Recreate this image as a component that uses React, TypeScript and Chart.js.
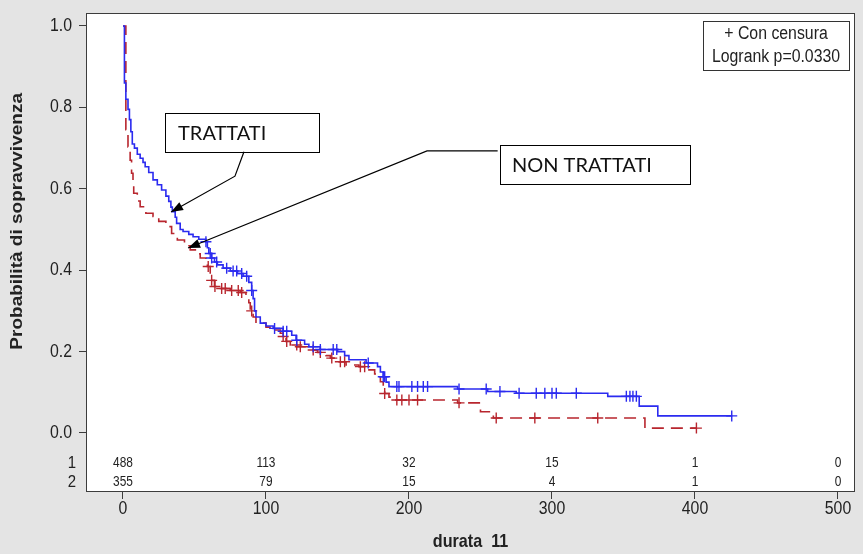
import React, { useEffect, useRef } from "react";
import { Chart, registerables } from "chart.js";

Chart.register(...registerables);

// ---------- DATA ----------
const xTicks = [0, 100, 200, 300, 400, 500];
const yTicks = [0, 0.2, 0.4, 0.6, 0.8, 1.0];

const riskTimes = [0, 100, 200, 300, 400, 500];
const riskGroup1 = [488, 113, 32, 15, 1, 0];
const riskGroup2 = [355, 79, 15, 4, 1, 0];
const riskRowLabels = ["1", "2"];

// Group 1 (TRATTATI) Kaplan-Meier steps
const trattatiT = [0, 1, 2, 3.5, 4.5, 5.5, 6.5, 8, 10, 12, 14, 15.5, 18, 21, 24, 27, 30, 32, 33.5, 34.5, 36.5, 37.5, 40, 42, 46, 49, 53, 58, 59, 60, 62, 64, 66, 70, 75, 80, 84, 88, 90, 91, 92, 93, 96, 100, 105, 112, 118, 121, 127, 130, 138, 150, 155, 158, 170, 178, 180, 182, 184, 186, 234, 255, 275, 339, 361, 374, 426];
const trattatiS = [1, 0.86, 0.82, 0.795, 0.77, 0.74, 0.71, 0.7, 0.685, 0.675, 0.665, 0.654, 0.64, 0.622, 0.61, 0.597, 0.582, 0.569, 0.555, 0.544, 0.53, 0.515, 0.5, 0.495, 0.488, 0.482, 0.476, 0.47, 0.455, 0.441, 0.43, 0.42, 0.413, 0.405, 0.398, 0.392, 0.385, 0.37, 0.35, 0.33, 0.3, 0.285, 0.27, 0.263, 0.257, 0.25, 0.24, 0.228, 0.218, 0.212, 0.205, 0.2, 0.19, 0.18, 0.172, 0.163, 0.15, 0.138, 0.125, 0.114, 0.108, 0.102, 0.0975, 0.09, 0.066, 0.042, 0.042];
const trattatiCensT = [58, 61, 62, 65.5, 72.5, 77, 79.5, 83, 86.5, 90, 106, 112, 114.5, 121.5, 133, 138, 147, 149.5, 171.5, 182, 183, 191.5, 193, 202, 206, 210, 213, 235, 254, 263.6, 277, 289, 295, 300, 303, 317, 352, 354.5, 356.6, 359, 425.7];
const trattatiCensS = [0.47, 0.441, 0.43, 0.42, 0.405, 0.398, 0.398, 0.392, 0.385, 0.35, 0.257, 0.25, 0.25, 0.228, 0.212, 0.205, 0.205, 0.205, 0.172, 0.138, 0.138, 0.114, 0.114, 0.114, 0.114, 0.114, 0.114, 0.108, 0.108, 0.102, 0.0975, 0.0975, 0.0975, 0.0975, 0.0975, 0.0975, 0.09, 0.09, 0.09, 0.09, 0.042];

// Group 2 (NON TRATTATI) Kaplan-Meier steps
const nonTrattatiT = [0, 2, 3.5, 5, 6, 7, 7.5, 10, 12, 16, 21, 25, 30, 34, 38, 43, 47, 52, 54, 58, 59, 61, 62, 64, 68, 75, 82, 86, 88, 89, 91, 93, 100, 105, 110, 112, 114, 117, 122, 129, 136, 142, 145, 150, 156, 165, 172, 176, 178, 180, 182, 183, 186, 190, 234, 250, 259, 365, 401];
const nonTrattatiS = [1, 0.745, 0.703, 0.67, 0.638, 0.61, 0.589, 0.57, 0.556, 0.54, 0.532, 0.52, 0.507, 0.49, 0.474, 0.46, 0.45, 0.44, 0.43, 0.42, 0.409, 0.39, 0.375, 0.36, 0.355, 0.35, 0.345, 0.335, 0.32, 0.3, 0.285, 0.27, 0.26, 0.253, 0.245, 0.237, 0.225, 0.216, 0.212, 0.204, 0.198, 0.19, 0.184, 0.175, 0.167, 0.163, 0.155, 0.145, 0.138, 0.126, 0.11, 0.097, 0.088, 0.081, 0.074, 0.052, 0.037, 0.012, 0.012];
const nonTrattatiCensT = [59.6, 62, 64.3, 69, 71.5, 76, 80.6, 83, 90, 112, 114.5, 121.5, 124, 133, 138, 146, 152, 155, 166, 169, 183, 191.5, 195, 200, 206, 235, 261, 288, 332, 401];
const nonTrattatiCensS = [0.409, 0.375, 0.36, 0.355, 0.355, 0.35, 0.35, 0.345, 0.3, 0.237, 0.225, 0.216, 0.212, 0.204, 0.198, 0.184, 0.175, 0.175, 0.163, 0.163, 0.097, 0.081, 0.081, 0.081, 0.081, 0.074, 0.037, 0.037, 0.037, 0.012];

const legendLines = ["+ Con censura", "Logrank p=0.0330"];
const xTitle = "durata  11";
const yTitle = "Probabilità di sopravvivenza";
const labelTrattati = "TRATTATI";
const labelNonTrattati = "NON TRATTATI";

// ---------- STYLE ----------
const BLUE = "#2b2bf0";
const RED = "#b8262e";
const BG = "#e4e4e4";
const FRAME = "#3c3c3c";
const TEXT = "#222222";
const SANS = "'Liberation Sans', Arial, sans-serif";
const CALLOUT = "Lato, 'Open Sans', sans-serif";
const SQUISH = 0.88;

const pts = (xs: number[], ys: number[]) => xs.map((x, i) => ({ x, y: ys[i] }));

function text(ctx: CanvasRenderingContext2D, s: string, x: number, y: number, font: string, align: CanvasTextAlign, sx = SQUISH) {
  ctx.save();
  ctx.translate(x, y);
  ctx.scale(sx, 1);
  ctx.font = font;
  ctx.textAlign = align;
  ctx.textBaseline = "middle";
  ctx.fillText(s, 0, 0);
  ctx.restore();
}

function arrow(ctx: CanvasRenderingContext2D, path: [number, number][]) {
  ctx.beginPath();
  ctx.moveTo(path[0][0], path[0][1]);
  for (let i = 1; i < path.length; i++) ctx.lineTo(path[i][0], path[i][1]);
  ctx.stroke();
  const [tx, ty] = path[path.length - 1];
  const [px, py] = path[path.length - 2];
  const ang = Math.atan2(ty - py, tx - px);
  const L = 12, W = 4.5;
  ctx.beginPath();
  ctx.moveTo(tx, ty);
  ctx.lineTo(tx - L * Math.cos(ang) + W * Math.sin(ang), ty - L * Math.sin(ang) - W * Math.cos(ang));
  ctx.lineTo(tx - L * Math.cos(ang) - W * Math.sin(ang), ty - L * Math.sin(ang) + W * Math.cos(ang));
  ctx.closePath();
  ctx.fill();
}

const bgPlugin = {
  id: "bg",
  beforeDraw(chart: any) {
    const { ctx, chartArea: a } = chart;
    ctx.save();
    ctx.fillStyle = BG;
    ctx.fillRect(0, 0, chart.width, chart.height);
    ctx.fillStyle = "#ffffff";
    ctx.fillRect(a.left, a.top, a.right - a.left, a.bottom - a.top);
    ctx.restore();
  },
};

const overlayPlugin = {
  id: "overlay",
  afterDraw(chart: any) {
    const { ctx, chartArea: a } = chart;
    const xs = chart.scales.x;
    const ys = chart.scales.y;
    const X = (v: number) => xs.getPixelForValue(v);
    const Y = (v: number) => ys.getPixelForValue(v);
    ctx.save();

    // frame
    ctx.strokeStyle = FRAME;
    ctx.lineWidth = 1;
    ctx.strokeRect(Math.round(a.left) + 0.5, Math.round(a.top) + 0.5, Math.round(a.right - a.left) - 1, Math.round(a.bottom - a.top) - 1);

    ctx.fillStyle = TEXT;
    const tickFont = `18px ${SANS}`;
    // tick labels
    xTicks.forEach((v) => text(ctx, String(v), X(v), a.bottom + 17, tickFont, "center"));
    yTicks.forEach((v) => text(ctx, v.toFixed(1), a.left - 14, Y(v), tickFont, "right"));

    // number at risk table
    const rows = [riskGroup1, riskGroup2];
    const rowY = [a.bottom - 29, a.bottom - 10];
    rows.forEach((row, r) => {
      row.forEach((n, i) => text(ctx, String(n), X(riskTimes[i]), rowY[r], `14px ${SANS}`, "center", 0.85));
    });
    riskRowLabels.forEach((l, r) => text(ctx, l, a.left - 10, rowY[r], `17px ${SANS}`, "right"));

    // axis titles
    text(ctx, xTitle, (a.left + a.right) / 2, a.bottom + 50, `bold 19px ${SANS}`, "center", 0.85);
    ctx.save();
    ctx.translate(18, Y(0.52));
    ctx.rotate(-Math.PI / 2);
    ctx.scale(1, 0.85);
    ctx.font = `bold 19px ${SANS}`;
    ctx.textAlign = "center";
    ctx.textBaseline = "middle";
    ctx.fillText(yTitle, 0, 0);
    ctx.restore();

    // legend box (top right)
    const lbR = a.right - 6, lbT = a.top + 8, lbW = 146, lbH = 49;
    ctx.fillStyle = "#ffffff";
    ctx.fillRect(lbR - lbW, lbT, lbW, lbH);
    ctx.strokeStyle = "#333";
    ctx.strokeRect(Math.round(lbR - lbW) + 0.5, Math.round(lbT) + 0.5, lbW, lbH);
    ctx.fillStyle = TEXT;
    text(ctx, legendLines[0], lbR - lbW / 2, lbT + 13, `18px ${SANS}`, "center");
    text(ctx, legendLines[1], lbR - lbW / 2, lbT + 36, `18px ${SANS}`, "center");

    // call-out boxes
    ctx.strokeStyle = "#000";
    ctx.lineWidth = 1;
    const box = (t0: number, t1: number, s0: number, s1: number, label: string, tText: number) => {
      const x0 = Math.round(X(t0)) + 0.5, x1 = Math.round(X(t1)) + 0.5;
      const y0 = Math.round(Y(s0)) + 0.5, y1 = Math.round(Y(s1)) + 0.5;
      ctx.fillStyle = "#fff";
      ctx.fillRect(x0, y0, x1 - x0, y1 - y0);
      ctx.strokeRect(x0, y0, x1 - x0, y1 - y0);
      ctx.fillStyle = "#111";
      text(ctx, label, X(tText), (y0 + y1) / 2 + 1, `20px ${CALLOUT}`, "left", 1);
    };
    box(29.4, 137.1, 0.786, 0.691, labelTrattati, 38.5);
    box(263.6, 396.5, 0.707, 0.611, labelNonTrattati, 272);

    ctx.fillStyle = "#000";
    ctx.lineWidth = 1.2;
    arrow(ctx, [[X(84.6), Y(0.691)], [X(78.3), Y(0.631)], [X(33.6), Y(0.543)]]);
    arrow(ctx, [[X(262), Y(0.693)], [X(212.6), Y(0.693)], [X(45.5), Y(0.4545)]]);

    ctx.restore();
  },
};

export default function App() {
  const ref = useRef<HTMLCanvasElement | null>(null);
  useEffect(() => {
    document.body.style.margin = "0";
    document.body.style.background = BG;
    const canvas = ref.current!;
    const chart = new Chart(canvas, {
      type: "line",
      data: {
        datasets: [
          {
            label: labelTrattati,
            data: pts(trattatiT, trattatiS),
            borderColor: BLUE,
            borderWidth: 1.6,
            stepped: "before",
            pointRadius: 0,
            fill: false,
          },
          {
            type: "scatter",
            label: "cens1",
            data: pts(trattatiCensT, trattatiCensS),
            borderColor: BLUE,
            backgroundColor: BLUE,
            pointStyle: "cross",
            pointRadius: 5.5,
            borderWidth: 1.4,
            showLine: false,
          },
          {
            label: labelNonTrattati,
            data: pts(nonTrattatiT, nonTrattatiS),
            borderColor: RED,
            borderWidth: 1.6,
            borderDash: [12, 7],
            stepped: "before",
            pointRadius: 0,
            fill: false,
          },
          {
            type: "scatter",
            label: "cens2",
            data: pts(nonTrattatiCensT, nonTrattatiCensS),
            borderColor: RED,
            backgroundColor: RED,
            pointStyle: "cross",
            pointRadius: 5.5,
            borderWidth: 1.4,
            showLine: false,
          },
        ] as any,
      },
      options: {
        responsive: false,
        animation: false,
        devicePixelRatio: 1,
        layout: { padding: { top: 13, right: 8, left: 0, bottom: 0 } },
        plugins: {
          legend: { display: false },
          tooltip: { enabled: false },
          title: { display: false },
        },
        scales: {
          x: {
            type: "linear",
            min: -25.87,
            max: 511.9,
            afterBuildTicks: (ax: any) => {
              ax.ticks = xTicks.map((v) => ({ value: v }));
            },
            afterFit: (ax: any) => {
              ax.height = 62;
            },
            grid: { drawOnChartArea: false, drawTicks: true, tickLength: 7, color: FRAME, tickColor: FRAME },
            border: { display: false },
            ticks: { display: false, autoSkip: false },
          },
          y: {
            type: "linear",
            min: -0.145,
            max: 1.0319,
            afterBuildTicks: (ax: any) => {
              ax.ticks = yTicks.map((v) => ({ value: v }));
            },
            afterFit: (ax: any) => {
              ax.width = 86;
            },
            grid: { drawOnChartArea: false, drawTicks: true, tickLength: 7, color: FRAME, tickColor: FRAME },
            border: { display: false },
            ticks: { display: false, autoSkip: false },
          },
        },
      } as any,
      plugins: [bgPlugin, overlayPlugin],
    });
    return () => chart.destroy();
  }, []);

  return (
    <div style={{ position: "absolute", left: 0, top: 0, width: 863, height: 554, background: BG }}>
      <canvas ref={ref} width={863} height={554} style={{ display: "block", width: 863, height: 554 }} />
    </div>
  );
}
